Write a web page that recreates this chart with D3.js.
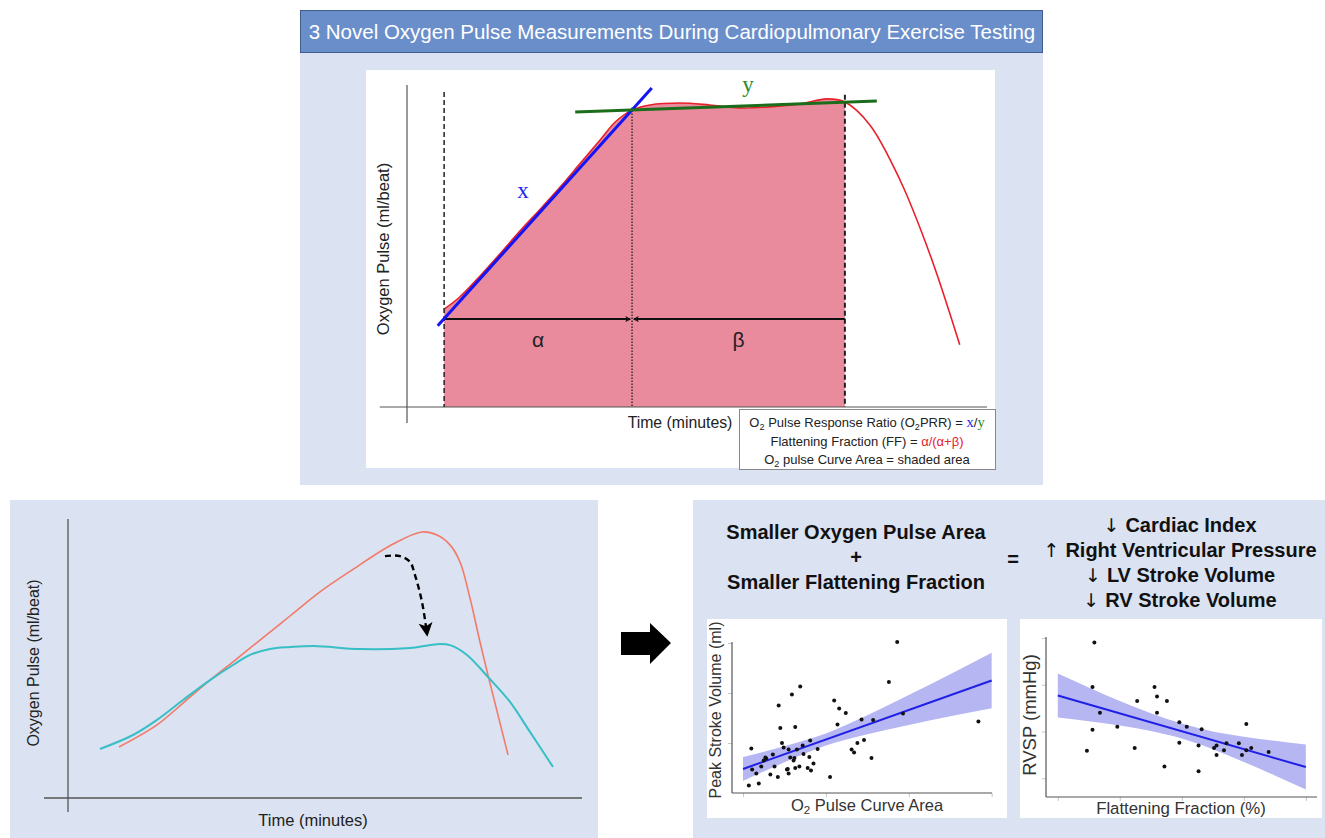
<!DOCTYPE html>
<html>
<head>
<meta charset="utf-8">
<script src="https://cdn.jsdelivr.net/npm/d3@7"></script>
<style>
  body { margin: 0; background: #fff; }
  svg { display: block; }
  text { font-family: "Liberation Sans", Arial, Helvetica, sans-serif; }
</style>
</head>
<body>
<svg id="fig" width="1325" height="838"></svg>
<script>
// ---------- Schematic O2 pulse curve (top) ----------
const topTime  = [6.4, 9, 12.6, 16, 19.5, 23, 26.4, 29.8, 33.3, 35.9, 38.8, 41.9, 47.1, 52.2, 57.4, 62.6, 67.8, 72.4, 75.5, 79.8, 85, 90.2, 95.3];
const topPulse = [30.4, 34, 40.7, 47.5, 54.7, 61.5, 68.3, 75.5, 82.9, 88.5, 92.2, 93.8, 94.4, 93.8, 92.9, 93.2, 94.1, 95.7, 94.7, 87.6, 70.5, 47.2, 19.3];
const phaseTimes = [6.4, 38.8, 75.5];          // exercise start, plateau onset, peak exercise
const phaseTops  = [97.8, 93, 97];
const riseFitTime = [5.3, 42.2],  riseFitPulse = [25.2, 99.1];     // "x" slope
const plateauFitTime = [29, 81],  plateauFitPulse = [91.6, 95];    // "y" slope
const segmentLevel = 27.3;                                          // alpha / beta bar

// ---------- Normal vs flattened response (bottom left) ----------
const normalTime  = [10.2, 17.8, 23, 28.4, 33, 38.4, 44.4, 50.4, 56.8, 65, 70.8, 73.8, 76.4, 78.4, 80.4, 82.4, 84, 88];
const normalPulse = [18.2, 26.1, 33.9, 42.1, 48.6, 56.4, 65, 73.6, 81.4, 90.7, 95, 93.9, 90.4, 84.3, 71.4, 55.7, 43.9, 15.4];
const flatTime  = [6.4, 13, 17.8, 23, 28.4, 33, 36.4, 40.4, 44.4, 49.2, 58.4, 68.4, 74.4, 76.4, 79.8, 84, 88.4, 92.4, 97];
const flatPulse = [17.5, 22.5, 27.9, 35, 42.1, 47.5, 51.1, 53.2, 53.9, 54.3, 53.2, 53.6, 55, 54.6, 51.1, 43.2, 34.3, 23.6, 11.1];
const shiftTime  = [63.4, 66.4, 68.4, 69.4, 70.8, 71.8];
const shiftPulse = [86.4, 86.4, 84.3, 79.6, 70, 58.6];

// ---------- Peak stroke volume vs O2 pulse curve area ----------
const curveArea = [0.07,0.10,0.11,0.16,0.19,0.22,0.25,0.27,0.28,0.33,0.36,0.38,0.42,0.43,0.45,0.47,0.49,0.53,0.54,0.55,0.55,0.57,0.59,0.61,0.62,0.63,0.63,0.65,0.68,0.69,0.72,0.73,0.78,0.80,0.81,0.82,0.85,0.90,1.05,1.10,1.14,1.16,1.24,1.31,1.34,1.38,1.43,1.46,1.55,1.57,1.76,1.86,1.93,2.84];
const strokeVol = [0.15,0.89,0.47,0.39,0.19,0.53,0.65,0.71,0.69,0.37,0.77,0.53,0.32,1.75,1.30,1.00,0.91,0.47,0.48,0.87,0.39,0.71,1.97,0.65,0.70,1.32,0.50,0.87,0.53,2.13,0.95,0.78,0.50,0.72,1.05,0.45,0.59,0.88,0.32,1.85,1.37,1.69,1.60,0.87,0.81,1.00,1.47,1.06,0.70,1.46,2.22,3.02,1.59,1.43];
const areaFitX = [0, 3], areaFitY = [0.48, 2.25];
const areaBandX  = [0, 0.5, 1, 1.5, 2, 2.5, 3];
const areaBandLo = [0.24, 0.615, 0.95, 1.175, 1.36, 1.535, 1.695];
const areaBandHi = [0.72, 0.935, 1.19, 1.555, 1.96, 2.375, 2.805];

// ---------- RVSP vs flattening fraction ----------
const flatFrac = [0.47,0.56,0.56,0.59,0.68,0.96,1.24,1.28,1.56,1.60,1.60,1.72,1.76,1.96,1.96,2.08,2.27,2.27,2.32,2.52,2.56,2.56,2.68,2.72,2.92,2.97,3.04,3.04,3.12,3.40];
const rvsp     = [1.59,2.95,2.04,3.90,2.40,2.10,1.65,2.65,2.95,2.75,2.40,1.25,2.65,2.20,1.76,2.10,1.70,1.15,2.05,1.65,1.70,1.50,1.60,1.75,1.75,1.50,2.16,1.60,1.65,1.56];
const ffFitX = [0, 4], ffFitY = [2.77, 1.24];
const ffBandX  = [0, 0.5, 1, 1.5, 2, 2.5, 3, 3.5, 4];
const ffBandLo = [2.30, 2.22, 2.13, 2.01, 1.85, 1.62, 1.35, 1.06, 0.76];
const ffBandHi = [3.24, 2.94, 2.65, 2.39, 2.17, 2.00, 1.89, 1.80, 1.72];

const titleText = "3 Novel Oxygen Pulse Measurements During Cardiopulmonary Exercise Testing";
const causeLines = ["Smaller Oxygen Pulse Area", "+", "Smaller Flattening Fraction"];
const effectArrows = ["\u2193", "\u2191", "\u2193", "\u2193"];
const effectLines = ["Cardiac Index", "Right Ventricular Pressure", "LV Stroke Volume", "RV Stroke Volume"];

// ---------- drawing ----------
const svg = d3.select("#fig");
const panelFill = "#dbe2f1";
const serif = "'Liberation Serif', 'DejaVu Serif', serif";
const zip = (a, b) => a.map((v, i) => [v, b[i]]);

const defs = svg.append("defs");
function arrowMarker(id, color, w, h) {
  defs.append("marker").attr("id", id)
    .attr("viewBox", "0 0 10 10").attr("refX", 8).attr("refY", 5)
    .attr("markerWidth", w).attr("markerHeight", h)
    .attr("markerUnits", "userSpaceOnUse").attr("orient", "auto")
    .append("path").attr("d", "M0,0 L10,5 L0,10 L2.5,5 Z").attr("fill", color);
}
arrowMarker("headBlack", "#000", 14, 17);
arrowMarker("tinyHead", "#111", 6, 6);

// text helper with subscripts / coloured parts
function richText(sel, parts) {
  let shift = 0;
  parts.forEach(p => {
    const t = sel.append("tspan").text(p.t);
    const target = p.sub ? 3 : 0;
    if (target !== shift) { t.attr("dy", target - shift); shift = target; }
    if (p.sub) t.style("font-size", "0.7em");
    if (p.fill) t.attr("fill", p.fill);
    if (p.serif) t.style("font-family", serif).style("font-size", "1.12em");
  });
  return sel;
}

// ===== Top panel =====
svg.append("rect").attr("x", 300).attr("y", 10).attr("width", 743).attr("height", 475).attr("fill", panelFill);
svg.append("rect").attr("x", 300.5).attr("y", 10.5).attr("width", 742).attr("height", 42)
  .attr("fill", "#6a8eca").attr("stroke", "#3f5d8f").attr("stroke-width", 1);
svg.append("text").attr("x", 672).attr("y", 39).attr("text-anchor", "middle")
  .attr("fill", "#fff").attr("font-size", 20.5).text(titleText);
svg.append("rect").attr("x", 366).attr("y", 70).attr("width", 629).attr("height", 398).attr("fill", "#fff");

const xT = d3.scaleLinear().domain([0, 100]).range([407, 987]);
const yT = d3.scaleLinear().domain([0, 100]).range([407, 85]);
const gT = svg.append("g");

const topPts = zip(topTime, topPulse);
const shaded = topPts.filter(d => d[0] <= phaseTimes[2]);
gT.append("path").datum(shaded)
  .attr("d", d3.area().x(d => xT(d[0])).y0(yT(0)).y1(d => yT(d[1])).curve(d3.curveCatmullRom))
  .attr("fill", "#ea8b9d");

// axes
gT.append("line").attr("x1", xT(0)).attr("x2", xT(0)).attr("y1", yT(-5)).attr("y2", yT(100))
  .attr("stroke", "#555").attr("stroke-width", 1.2);
gT.append("line").attr("x1", xT(-4.7)).attr("x2", xT(100)).attr("y1", yT(0)).attr("y2", yT(0))
  .attr("stroke", "#555").attr("stroke-width", 1.2);

gT.append("path").datum(topPts)
  .attr("d", d3.line().x(d => xT(d[0])).y(d => yT(d[1])).curve(d3.curveCatmullRom))
  .attr("fill", "none").attr("stroke", "#e8202a").attr("stroke-width", 1.6);

// phase boundaries
const phaseDash = ["5,3", "1.5,1.5", "5,3"];
const phaseW = [1.5, 1.3, 2];
phaseTimes.forEach((t, i) => {
  gT.append("line").attr("x1", xT(t)).attr("x2", xT(t)).attr("y1", yT(phaseTops[i])).attr("y2", yT(0))
    .attr("stroke", "#222").attr("stroke-width", phaseW[i]).attr("stroke-dasharray", phaseDash[i]);
});

// alpha / beta segments
gT.append("line").attr("x1", xT(phaseTimes[0])).attr("x2", xT(phaseTimes[1]) - 2)
  .attr("y1", yT(segmentLevel)).attr("y2", yT(segmentLevel))
  .attr("stroke", "#111").attr("stroke-width", 2).attr("marker-end", "url(#tinyHead)");
gT.append("line").attr("x1", xT(phaseTimes[2])).attr("x2", xT(phaseTimes[1]) + 2)
  .attr("y1", yT(segmentLevel)).attr("y2", yT(segmentLevel))
  .attr("stroke", "#111").attr("stroke-width", 2).attr("marker-end", "url(#tinyHead)");
gT.append("text").attr("x", xT((phaseTimes[0] + phaseTimes[1]) / 2)).attr("y", 347)
  .attr("text-anchor", "middle").attr("font-size", 21).attr("fill", "#222").text("\u03B1");
gT.append("text").attr("x", xT((phaseTimes[1] + phaseTimes[2]) / 2)).attr("y", 347)
  .attr("text-anchor", "middle").attr("font-size", 21).attr("fill", "#222").text("\u03B2");

// fitted slopes
gT.append("line").attr("x1", xT(riseFitTime[0])).attr("x2", xT(riseFitTime[1]))
  .attr("y1", yT(riseFitPulse[0])).attr("y2", yT(riseFitPulse[1]))
  .attr("stroke", "#1414f5").attr("stroke-width", 3);
gT.append("line").attr("x1", xT(plateauFitTime[0])).attr("x2", xT(plateauFitTime[1]))
  .attr("y1", yT(plateauFitPulse[0])).attr("y2", yT(plateauFitPulse[1]))
  .attr("stroke", "#1b6d1b").attr("stroke-width", 3);
gT.append("text").attr("x", 523).attr("y", 198).attr("text-anchor", "middle")
  .style("font-family", serif).attr("font-size", 23).attr("fill", "#2323f0").text("x");
gT.append("text").attr("x", 748).attr("y", 92).attr("text-anchor", "middle")
  .style("font-family", serif).attr("font-size", 23).attr("fill", "#2a8a2a").text("y");

// axis titles
gT.append("text").attr("transform", "translate(389,249) rotate(-90)").attr("text-anchor", "middle")
  .attr("font-size", 16.5).attr("fill", "#222").text("Oxygen Pulse (ml/beat)");
gT.append("text").attr("x", 680).attr("y", 428).attr("text-anchor", "middle")
  .attr("font-size", 15.8).attr("fill", "#222").text("Time (minutes)");

// definitions box
svg.append("rect").attr("x", 739.5).attr("y", 409.5).attr("width", 256).attr("height", 60)
  .attr("fill", "#fff").attr("stroke", "#888").attr("stroke-width", 1);
const legendRows = [
  [{t: "O"}, {t: "2", sub: true}, {t: " Pulse Response Ratio (O"}, {t: "2", sub: true}, {t: "PRR) = "},
   {t: "x", fill: "#2323f0", serif: true}, {t: "/"}, {t: "y", fill: "#2a8a2a", serif: true}],
  [{t: "Flattening Fraction (FF) = "}, {t: "\u03B1/(\u03B1+\u03B2)", fill: "#e8202a"}],
  [{t: "O"}, {t: "2", sub: true}, {t: " pulse Curve Area = shaded area"}]
];
legendRows.forEach((row, i) => {
  richText(svg.append("text").attr("x", 867).attr("y", 427 + i * 18.5).attr("text-anchor", "middle")
    .attr("font-size", 13).attr("fill", "#222"), row);
});

// ===== Bottom-left panel =====
svg.append("rect").attr("x", 10).attr("y", 500).attr("width", 588).attr("height", 338).attr("fill", panelFill);
const xB = d3.scaleLinear().domain([0, 100]).range([68, 568]);
const yB = d3.scaleLinear().domain([0, 100]).range([798, 518]);
const gB = svg.append("g");
gB.append("line").attr("x1", xB(0)).attr("x2", xB(0)).attr("y1", yB(-5)).attr("y2", yB(99.6))
  .attr("stroke", "#555").attr("stroke-width", 1.3);
gB.append("line").attr("x1", xB(-4.8)).attr("x2", xB(102.8)).attr("y1", yB(0)).attr("y2", yB(0))
  .attr("stroke", "#555").attr("stroke-width", 1.3);
const lineB = d3.line().x(d => xB(d[0])).y(d => yB(d[1])).curve(d3.curveCatmullRom);
gB.append("path").datum(zip(normalTime, normalPulse)).attr("d", lineB)
  .attr("fill", "none").attr("stroke", "#f27a67").attr("stroke-width", 1.6);
gB.append("path").datum(zip(flatTime, flatPulse)).attr("d", lineB)
  .attr("fill", "none").attr("stroke", "#38bfc6").attr("stroke-width", 2);
gB.append("path").datum(zip(shiftTime, shiftPulse)).attr("d", lineB)
  .attr("fill", "none").attr("stroke", "#000").attr("stroke-width", 2.4)
  .attr("stroke-dasharray", "6,4").attr("marker-end", "url(#headBlack)");
gB.append("text").attr("transform", "translate(39,663) rotate(-90)").attr("text-anchor", "middle")
  .attr("font-size", 16).attr("fill", "#222").text("Oxygen Pulse (ml/beat)");
gB.append("text").attr("x", 313).attr("y", 826).attr("text-anchor", "middle")
  .attr("font-size", 16.5).attr("fill", "#222").text("Time (minutes)");

// block arrow between panels
svg.append("path").attr("d", "M621,632 L650,632 L650,623 L671,643 L650,664 L650,655 L621,655 Z").attr("fill", "#000");

// ===== Bottom-right panel =====
svg.append("rect").attr("x", 693).attr("y", 500).attr("width", 632).attr("height", 338).attr("fill", panelFill);
causeLines.forEach((s, i) => {
  svg.append("text").attr("x", 856).attr("y", 539 + i * 25).attr("text-anchor", "middle")
    .attr("font-size", 20).attr("font-weight", "bold").attr("fill", "#111").text(s);
});
svg.append("text").attr("x", 1013).attr("y", 566).attr("text-anchor", "middle")
  .attr("font-size", 20).attr("font-weight", "bold").attr("fill", "#111").text("=");
effectLines.forEach((s, i) => {
  const t = svg.append("text").attr("x", 1180).attr("y", 532 + i * 25).attr("text-anchor", "middle")
    .attr("font-size", 20).attr("font-weight", "bold").attr("fill", "#111");
  t.append("tspan").style("font-family", "'DejaVu Sans', sans-serif").attr("font-weight", "normal")
    .attr("font-size", 19).text(effectArrows[i] + " ");
  t.append("tspan").text(s);
});

function scatter(cfg) {
  svg.append("rect").attr("x", cfg.box[0]).attr("y", cfg.box[1]).attr("width", cfg.box[2]).attr("height", cfg.box[3]).attr("fill", "#fff");
  const x = d3.scaleLinear().domain(cfg.xDom).range(cfg.xRange);
  const y = d3.scaleLinear().domain(cfg.yDom).range(cfg.yRange);
  const g = svg.append("g");
  g.append("g").attr("transform", `translate(0,${cfg.yRange[0]})`)
    .call(d3.axisBottom(x).tickValues(cfg.xTicks).tickFormat("").tickSize(4).tickSizeOuter(0))
    .call(a => a.select(".domain").remove())
    .call(a => a.selectAll("line").attr("stroke", "#c8c8c8"));
  g.append("g").attr("transform", `translate(${cfg.xRange[0]},0)`)
    .call(d3.axisLeft(y).tickValues(cfg.yTicks).tickFormat("").tickSize(4).tickSizeOuter(0))
    .call(a => a.select(".domain").remove())
    .call(a => a.selectAll("line").attr("stroke", "#c8c8c8"));
  g.append("line").attr("x1", cfg.xRange[0]).attr("x2", cfg.xRange[1]).attr("y1", cfg.yRange[0]).attr("y2", cfg.yRange[0])
    .attr("stroke", "#555").attr("stroke-width", 1.2);
  g.append("line").attr("x1", cfg.xRange[0]).attr("x2", cfg.xRange[0]).attr("y1", cfg.yRange[0]).attr("y2", cfg.yRange[1])
    .attr("stroke", "#555").attr("stroke-width", 1.2);
  g.append("path").datum(cfg.bandX.map((v, i) => [v, cfg.bandLo[i], cfg.bandHi[i]]))
    .attr("d", d3.area().x(d => x(d[0])).y0(d => y(d[1])).y1(d => y(d[2])).curve(d3.curveMonotoneX))
    .attr("fill", "#b6b6f3");
  g.append("line").attr("x1", x(cfg.fitX[0])).attr("x2", x(cfg.fitX[1]))
    .attr("y1", y(cfg.fitY[0])).attr("y2", y(cfg.fitY[1]))
    .attr("stroke", "#1f1fe6").attr("stroke-width", 2);
  g.selectAll("circle").data(zip(cfg.xs, cfg.ys)).join("circle")
    .attr("cx", d => x(d[0])).attr("cy", d => y(d[1])).attr("r", 2).attr("fill", "#111");
  richText(g.append("text").attr("x", cfg.xLabelPos[0]).attr("y", cfg.xLabelPos[1]).attr("text-anchor", "middle")
    .attr("font-size", cfg.xLabelSize).attr("fill", "#333"), cfg.xLabel);
  g.append("text").attr("transform", `translate(${cfg.yLabelPos[0]},${cfg.yLabelPos[1]}) rotate(-90)`)
    .attr("text-anchor", "middle").attr("font-size", cfg.yLabelSize).attr("fill", "#333").text(cfg.yLabel);
}

scatter({
  box: [707, 619, 300, 199],
  xDom: [-0.133, 3.004], xRange: [732, 992],
  yDom: [0, 3.02], yRange: [793, 642],
  xTicks: [0, 1, 2, 3], yTicks: [1, 2, 3],
  xs: curveArea, ys: strokeVol,
  fitX: areaFitX, fitY: areaFitY,
  bandX: areaBandX, bandLo: areaBandLo, bandHi: areaBandHi,
  xLabel: [{t: "O"}, {t: "2", sub: true}, {t: " Pulse Curve Area"}], xLabelPos: [867, 811], xLabelSize: 16.5,
  yLabel: "Peak Stroke Volume (ml)", yLabelPos: [721, 710], yLabelSize: 16
});

scatter({
  box: [1020, 619, 302, 199],
  xDom: [-0.19, 4.18], xRange: [1046, 1317],
  yDom: [0.6, 4.02], yRange: [797, 637],
  xTicks: [0, 1, 2, 3, 4], yTicks: [1, 2, 3, 4],
  xs: flatFrac, ys: rvsp,
  fitX: ffFitX, fitY: ffFitY,
  bandX: ffBandX, bandLo: ffBandLo, bandHi: ffBandHi,
  xLabel: [{t: "Flattening Fraction (%)"}], xLabelPos: [1181, 814], xLabelSize: 16.8,
  yLabel: "RVSP (mmHg)", yLabelPos: [1036, 715], yLabelSize: 18.5
});
</script>
</body>
</html>
